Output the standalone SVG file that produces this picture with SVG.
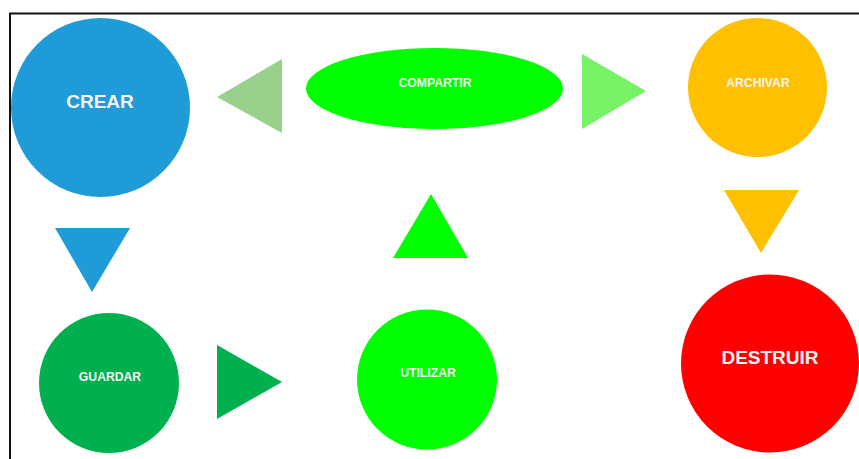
<svg xmlns="http://www.w3.org/2000/svg" width="859" height="459" viewBox="0 0 859 459">
<style>
.lbl{font-family:"Liberation Sans",Arial,sans-serif;font-weight:bold;fill:#F4F4F4;text-anchor:middle;dominant-baseline:central}
.big{font-size:19px}
.sm{font-size:12.2px}
</style>
<rect x="0" y="0" width="859" height="459" fill="#FFFFFF"/>
<path d="M10 459 V13.5 H859" fill="none" stroke="#111111" stroke-width="2"/>
<g id="connectors">
<polygon points="217,97 282,59 282,133" fill="#98D08C"/>
<polygon points="582,54 646,91 582,129" fill="#77F266"/>
<polygon points="724,190 799,190 761,253" fill="#FFC000"/>
<polygon points="55,228 130,228 92,292" fill="#1F9CD8"/>
<polygon points="217,345 282,382 217,419" fill="#00B04F"/>
<polygon points="393,258 468,258 431,194" fill="#00FF00"/>
</g>
<g id="crear">
<circle cx="100.5" cy="107.5" r="89.5" fill="#1F9CD8"/>
<text class="lbl big" x="100" y="101">CREAR</text>
</g>
<g id="compartir">
<ellipse cx="434.5" cy="88.5" rx="128.5" ry="40.5" fill="#00FF00"/>
<text class="lbl sm" x="435" y="83">COMPARTIR</text>
</g>
<g id="archivar">
<circle cx="757.5" cy="87.5" r="69.5" fill="#FFC000"/>
<text class="lbl sm" x="758" y="83">ARCHIVAR</text>
</g>
<g id="destruir">
<circle cx="770" cy="363.5" r="89" fill="#FF0000"/>
<text class="lbl big" x="770" y="357">DESTRUIR</text>
</g>
<g id="guardar">
<circle cx="109" cy="383" r="70" fill="#00B04F"/>
<text class="lbl sm" x="110" y="377">GUARDAR</text>
</g>
<g id="utilizar">
<circle cx="427" cy="379.5" r="70" fill="#00FF00"/>
<text class="lbl sm" x="428" y="373">UTILIZAR</text>
</g>
</svg>
